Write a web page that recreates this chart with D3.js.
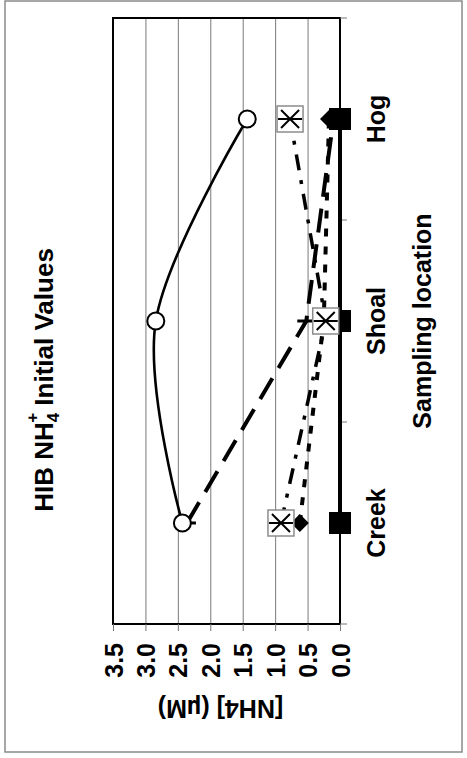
<!DOCTYPE html>
<html>
<head>
<meta charset="utf-8">
<script src="https://cdn.jsdelivr.net/npm/d3@7"></script>
<style>
  body { margin: 0; background: #fff; }
  svg text { font-family: "Liberation Sans", Arial, sans-serif; font-weight: bold; fill: #000; }
</style>
</head>
<body>
<div id="chart"></div>
<script>
// values (uM)
const categories = ["Creek", "Shoal", "Hog"];
const circleSeries = [2.43, 2.84, 1.43];   // open circle, smooth solid line
const dashSeries = [2.36, 0.52, 0.10];     // long dashes, bar marker
const diamondSeries = [0.62, 0.25, 0.17];  // black diamond, dotted
const squareSeries = [0.0, 0.0, 0.0];      // black square, thick solid
const boxSeries = [0.91, 0.22, 0.77];      // boxed star, dash-dot
const yTicks = [0, 0.5, 1.0, 1.5, 2.0, 2.5, 3.0, 3.5];

// the chart is drawn landscape and turned a quarter turn
const W = 758, H = 467;
const margin = { top: 113, right: 18, bottom: 127, left: 134 };

const svg = d3.select("#chart")
  .append("svg")
  .attr("width", H)
  .attr("height", W);

const g = svg.append("g")
  .attr("transform", `translate(0,${W}) rotate(-90)`);

// outer frame
g.append("rect")
  .attr("x", 6).attr("y", 5)
  .attr("width", 751).attr("height", 457)
  .attr("fill", "none").attr("stroke", "#8a8a8a").attr("stroke-width", 1.5);

const x = d3.scaleBand()
  .domain(categories)
  .range([margin.left, W - margin.right])
  .padding(0);
const cx = c => x(c) + x.bandwidth() / 2;

const y = d3.scaleLinear()
  .domain([0, 3.5])
  .range([H - margin.bottom, margin.top]);

const plotW = W - margin.right - margin.left;

// grid lines
g.append("g")
  .attr("transform", `translate(${margin.left},0)`)
  .call(d3.axisLeft(y).tickValues(yTicks.slice(1, -1)).tickSize(-plotW).tickFormat(""))
  .call(a => a.select(".domain").remove())
  .selectAll("line").attr("stroke", "#7a7a7a").attr("stroke-width", 1);

// plot frame
g.append("rect")
  .attr("x", margin.left).attr("y", y(3.5))
  .attr("width", plotW).attr("height", y(0) - y(3.5))
  .attr("fill", "none").attr("stroke", "#000").attr("stroke-width", 2);

// value axis
const yAxis = g.append("g")
  .attr("transform", `translate(${margin.left},0)`)
  .call(d3.axisLeft(y).tickValues(yTicks).tickSize(7).tickPadding(12).tickFormat(d3.format(".1f")));
yAxis.select(".domain").remove();
yAxis.selectAll("line").attr("stroke", "#777").attr("stroke-width", 1);
yAxis.selectAll("text").style("font-size", "25px").attr("dy", "0.36em");

// category axis: ticks between categories
const bounds = categories.map(c => x(c)).concat([x.range()[1]]);
g.append("g").selectAll("line")
  .data(bounds)
  .join("line")
  .attr("x1", d => d).attr("x2", d => d)
  .attr("y1", y(0)).attr("y2", y(0) + 7)
  .attr("stroke", "#777").attr("stroke-width", 1);

g.append("g").selectAll("text")
  .data(categories)
  .join("text")
  .attr("x", d => cx(d))
  .attr("y", y(0) + 45)
  .attr("text-anchor", "middle")
  .style("font-size", "25px")
  .text(d => d);

// axis titles
g.append("text")
  .attr("x", cx("Shoal"))
  .attr("y", 431)
  .attr("text-anchor", "middle")
  .style("font-size", "25px")
  .text("Sampling location");

g.append("text")
  .attr("transform", `translate(58,${(y(0) + y(3.5)) / 2 - 6}) rotate(-90)`)
  .attr("text-anchor", "middle")
  .style("font-size", "25px")
  .text("[NH4] (\u00b5M)");

// chart title with stacked sub/superscript
const title = g.append("text")
  .attr("x", 378)
  .attr("y", 53)
  .attr("text-anchor", "middle")
  .style("font-size", "26px");
title.append("tspan").text("HIB NH");
title.append("tspan").attr("dy", 6).style("font-size", "17px").text("4");
title.append("tspan").attr("dx", -10).attr("dy", -21).style("font-size", "17px").text("+");
title.append("tspan").attr("dy", 15).text(" Initial Values");

// lines
function pts(vals) { return categories.map((c, i) => [cx(c), y(vals[i])]); }

const smooth = d3.line().curve(d3.curveCardinal);
const straight = d3.line();

g.append("path").attr("d", straight(pts(dashSeries)))
  .attr("fill", "none").attr("stroke", "#000").attr("stroke-width", 4)
  .attr("stroke-dasharray", "24,12");

g.append("path").attr("d", straight(pts(diamondSeries)))
  .attr("fill", "none").attr("stroke", "#000").attr("stroke-width", 4)
  .attr("stroke-dasharray", "8,10");

g.append("path").attr("d", straight(pts(squareSeries)))
  .attr("fill", "none").attr("stroke", "#000").attr("stroke-width", 4);

g.append("path").attr("d", straight(pts(boxSeries)))
  .attr("fill", "none").attr("stroke", "#000").attr("stroke-width", 3.5)
  .attr("stroke-dasharray", "16,10,4,10");

g.append("path").attr("d", smooth(pts(circleSeries)))
  .attr("fill", "none").attr("stroke", "#000").attr("stroke-width", 2.6);

// markers
g.append("g").selectAll("line")
  .data(pts(dashSeries))
  .join("line")
  .attr("x1", d => d[0]).attr("x2", d => d[0])
  .attr("y1", d => d[1] - 9).attr("y2", d => d[1] + 9)
  .attr("stroke", "#000").attr("stroke-width", 3);

g.append("g").selectAll("path")
  .data(pts(diamondSeries))
  .join("path")
  .attr("transform", d => `translate(${d[0]},${d[1]})`)
  .attr("d", "M0,-9L9,0L0,9L-9,0Z")
  .attr("fill", "#000");

g.append("g").selectAll("rect")
  .data(pts(squareSeries))
  .join("rect")
  .attr("x", d => d[0] - 11).attr("y", d => d[1] - 11)
  .attr("width", 22).attr("height", 22)
  .attr("fill", "#000");

const boxes = g.append("g").selectAll("g")
  .data(pts(boxSeries))
  .join("g")
  .attr("transform", d => `translate(${d[0]},${d[1]})`);
boxes.append("rect")
  .attr("x", -13).attr("y", -13).attr("width", 26).attr("height", 26)
  .attr("fill", "#fff").attr("stroke", "#8c8c8c").attr("stroke-width", 1.5);
boxes.append("path")
  .attr("d", "M-9,-9L9,9M-9,9L9,-9M0,-12L0,12")
  .attr("stroke", "#000").attr("stroke-width", 2);

g.append("g").selectAll("circle")
  .data(pts(circleSeries))
  .join("circle")
  .attr("cx", d => d[0]).attr("cy", d => d[1])
  .attr("r", 8.5)
  .attr("fill", "#fff").attr("stroke", "#000").attr("stroke-width", 2);
</script>
</body>
</html>
